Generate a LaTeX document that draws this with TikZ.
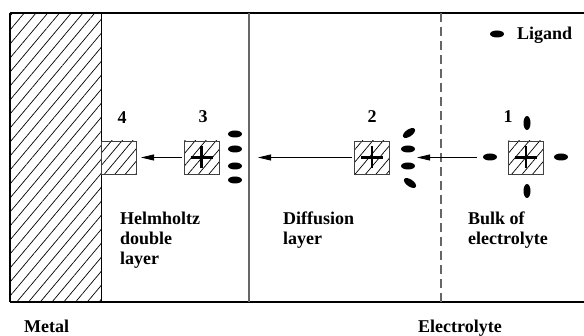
\documentclass[tikz,border=0pt]{standalone}
\usepackage{fontspec}
\setmainfont{Liberation Serif}
\usetikzlibrary{patterns.meta,arrows.meta,shapes.geometric}
\begin{document}
\begin{tikzpicture}[x=1pt,y=-1pt,
  lbl/.style={font=\bfseries\fontsize{18}{20}\selectfont, inner sep=0pt, align=left},
  ion/.style={draw=black!75, line width=0.8pt, minimum width=35pt, minimum height=33pt, inner sep=0pt,
    pattern={Lines[angle=50,distance=8pt,line width=0.7pt]}},
  lig/.style={fill=black, ellipse, minimum width=14pt, minimum height=7pt, inner sep=0pt},
  vlig/.style={lig, minimum width=7pt, minimum height=14pt},
  arr/.style={line width=0.8pt, -{Triangle[length=13pt,width=6pt]}},
  plusline/.style={line width=2.2pt},
  frame/.style={line width=1.2pt, black},
  divider/.style={line width=1.4pt, black!60}
]
\useasboundingbox (0,0) rectangle (584,336);

% metal
\fill[pattern={Lines[angle=50,distance=9pt,line width=0.7pt]}] (10,13) rectangle (101,302);
\draw[line width=1pt] (101,13) -- (101,302);
\draw[frame] (10,13) -- (584,13);
\draw[frame] (10,302) -- (584,302);
\draw[frame] (10,13) -- (10,302);

% dividers
\draw[divider] (249,13) -- (249,302);
\draw[divider, dash pattern=on 9pt off 5pt] (441,13) -- (441,302);

% ions
\node[ion] (b4) at (118.5,157.5) {};
\node[ion] (b3) at (201.5,157.5) {};
\node[ion] (b2) at (372,157.5) {};
\node[ion] (b1) at (526,157.5) {};

\foreach \b in {b3,b2,b1}{
  \draw[plusline] (\b.center) +(-11,0) -- +(11,0);
  \draw[plusline] (\b.center) +(0,-11) -- +(0,11);
}

% ligands around 3
\node[lig] (e3a) at (235,134) {};
\node[lig] (e3b) at (235,149) {};
\node[lig] (e3c) at (235,166) {};
\node[lig] (e3d) at (235,180) {};

% ligands around 2
\node[lig, rotate=35] (e2a) at (409,133) {};
\node[lig] (e2b) at (408,149) {};
\node[lig] (e2c) at (408,166) {};
\node[lig, rotate=-35] (e2d) at (410,183) {};

% ligands around 1
\node[lig] (l1w) at (490,157) {};
\node[lig] (l1e) at (561,157) {};
\node[vlig] (l1n) at (527,123) {};
\node[vlig] (l1s) at (527,191) {};

% legend
\node[lig] (leg) at (497,34) {};
\node[lbl, anchor=base west] (legt) at (517,40) {Ligand};

% arrows
\coordinate (t1) at (417,157.5);
\coordinate (t2) at (258,157.5);
\coordinate (t3) at (141,157.5);
\draw[arr, shorten <=6pt] (l1w.west |- t1) -- (t1);
\draw[arr, shorten <=2pt] (b2.west) -- (t2);
\draw[arr, shorten <=2pt] (b3.west) -- (t3);

% numbers
\node[lbl] (n4) at (122,118) {4};
\node[lbl] (n3) at (203,117) {3};
\node[lbl] (n2) at (372,117) {2};
\node[lbl] (n1) at (508,117) {1};

% region labels
\node[lbl, anchor=north west] (hh) at (120,212) {Helmholtz\\double\\layer};
\node[lbl, anchor=north west] (df) at (283,212) {Diffusion\\layer};
\node[lbl, anchor=north west] (bk) at (468,212) {Bulk of\\electrolyte};

\node[lbl, anchor=base west] (metal) at (24,333) {Metal};
\node[lbl, anchor=base west] (elec) at (418,333) {Electrolyte};
\end{tikzpicture}
\end{document}
